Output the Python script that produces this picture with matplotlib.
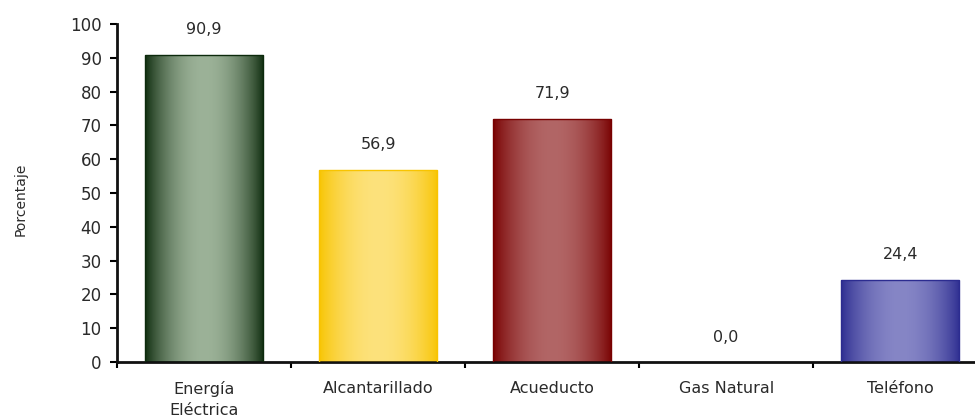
import numpy as np
import matplotlib.pyplot as plt
from matplotlib.colors import to_rgb

categorias = ['Energía\nEléctrica', 'Alcantarillado', 'Acueducto', 'Gas Natural', 'Teléfono']
valores = [90.9, 56.9, 71.9, 0.0, 24.4]
etiquetas = ['90,9', '56,9', '71,9', '0,0', '24,4']
# color del borde y color del centro de cada barra (efecto cilindro)
color_borde = ['#0c2a0c', '#f8c400', '#780000', '#000000', '#2c2c90']
color_centro = ['#9cb298', '#fde27c', '#b26666', '#ffffff', '#8686c6']

plt.rcParams['font.family'] = ['DejaVu Sans']

fig = plt.figure(figsize=(9.75, 4.19), dpi=100)
ax = fig.add_axes([0.12, 0.136, 0.88, 0.807])

x = np.arange(len(categorias))
ancho = 0.68
barras = ax.bar(x, valores, width=ancho, color='none', edgecolor='none', zorder=2)

t = np.linspace(0, 1, 200)
perfil = np.sin(np.pi * t) ** 0.8
for b, cb, cc in zip(barras, color_borde, color_centro):
    h = b.get_height()
    if h <= 0:
        continue
    c0 = np.array(to_rgb(cb))
    c1 = np.array(to_rgb(cc))
    img = c0[None, :] + (c1 - c0)[None, :] * perfil[:, None]
    img = img[None, :, :]
    x0 = b.get_x()
    im = ax.imshow(img, extent=[x0, x0 + b.get_width(), 0, h], aspect='auto',
                   origin='lower', zorder=2, interpolation='bilinear')
    im.set_clip_path(b)
    ax.bar(b.get_x() + b.get_width() / 2, h, width=b.get_width(), color='none',
           edgecolor=cb, linewidth=1.0, zorder=3)

for xi, v, lab in zip(x, valores, etiquetas):
    ax.annotate(lab, (xi, v), xytext=(0, 18), textcoords='offset points',
                ha='center', va='center', fontsize=11.5, color='#2a2a2a')

ax.set_xlim(-0.5, 4.43)
ax.set_ylim(0, 100)
ax.set_yticks(np.arange(0, 101, 10))
ax.tick_params(axis='y', direction='out', length=5, width=1.5, pad=6,
               labelsize=12, labelcolor='#2a2a2a')

# marcas entre categorias, etiquetas centradas
ax.set_xticks(np.arange(-0.5, 4.5, 1.0))
ax.set_xticklabels([])
ax.set_xticks(x, minor=True)
ax.set_xticklabels(categorias, minor=True, fontsize=11.5, color='#2a2a2a',
                   linespacing=1.5)
ax.tick_params(axis='x', which='major', direction='out', length=4, width=1.5)
ax.tick_params(axis='x', which='minor', length=0, pad=14)

ax.set_ylabel('Porcentaje', fontsize=10, color='#2a2a2a')
ax.yaxis.set_label_coords(-0.104, 0.482)

for s in ['top', 'right']:
    ax.spines[s].set_visible(False)
for s in ['left', 'bottom']:
    ax.spines[s].set_linewidth(2)
    ax.spines[s].set_color('#111111')

fig.savefig('out.png', dpi=100)
